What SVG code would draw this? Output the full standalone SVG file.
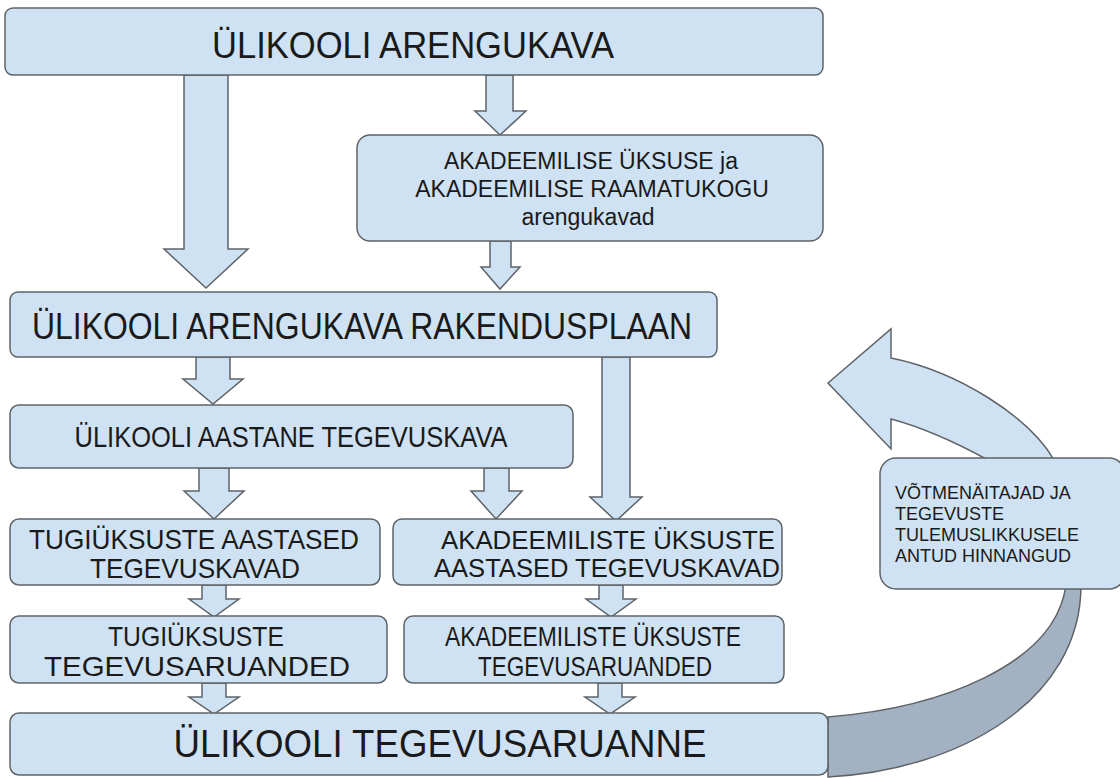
<svg xmlns="http://www.w3.org/2000/svg" width="1120" height="778" viewBox="0 0 1120 778">
<style>
.box{fill:#cfe2f3;stroke:#5f6368;stroke-width:1.5}
.arr{fill:#cfe2f3;stroke:#5f6368;stroke-width:1.5;stroke-linejoin:miter}
.dark{fill:#a3b2c2;stroke:#5f6368;stroke-width:1.5}
.n{font-family:"Liberation Sans Narrow","Liberation Sans",Arial,sans-serif;fill:#1a1a1a;text-anchor:middle}
.r{font-family:"Liberation Sans",Arial,sans-serif;fill:#1a1a1a;text-anchor:middle}
.s{font-family:"Liberation Sans",Arial,sans-serif;fill:#1a1a1a;font-size:18px}
</style>
<rect width="1120" height="778" fill="#ffffff"/>
<g id="connectors">
  <path class="dark" d="M828 717 C940 708 1055 665 1066 585 L1081 585 C1081 700 960 770 828 777 Z"/>
  <path class="arr" d="M828 383 L891 329 L891 358 C960 372 1030 418 1054 460 L988 460 C955 442 925 428 891 419 L891 449 Z"/>
  <path class="arr" d="M184 75 L228 75 L228 249 L248 249 L206 288 L164 249 L184 249 Z"/>
  <path class="arr" d="M486 75 L513 75 L513 111 L526 111 L500 135 L475 111 L486 111 Z"/>
  <path class="arr" d="M490 241 L511 241 L511 267 L520 267 L500 289 L481 267 L490 267 Z"/>
  <path class="arr" d="M196 357 L230 357 L230 379 L243 379 L213 404 L183 379 L196 379 Z"/>
  <path class="arr" d="M602 357 L630 357 L630 497 L642 497 L616 521 L590 497 L602 497 Z"/>
  <path class="arr" d="M199 468 L229 468 L229 491 L244 491 L214 519 L184 491 L199 491 Z"/>
  <path class="arr" d="M484 468 L509 468 L509 491 L522 491 L496 519 L471 491 L484 491 Z"/>
  <path class="arr" d="M202 585 L226 585 L226 599 L239 599 L214 617 L189 599 L202 599 Z"/>
  <path class="arr" d="M599 585 L623 585 L623 599 L636 599 L611 617 L586 599 L599 599 Z"/>
  <path class="arr" d="M202 683 L226 683 L226 697 L239 697 L214 714 L189 697 L202 697 Z"/>
  <path class="arr" d="M598 683 L622 683 L622 697 L635 697 L610 714 L585 697 L598 697 Z"/>
</g>
<g id="n-arengukava">
  <rect class="box" x="5" y="8" width="818" height="67" rx="8"/>
  <text class="n" x="413" y="58" font-size="36" textLength="402" lengthAdjust="spacingAndGlyphs">ÜLIKOOLI ARENGUKAVA</text>
</g>
<g id="n-akadeemilise">
  <rect class="box" x="357" y="135" width="466" height="106" rx="13"/>
  <text class="r" x="591" y="169" font-size="23">AKADEEMILISE ÜKSUSE ja</text>
  <text class="r" x="592" y="197" font-size="23">AKADEEMILISE RAAMATUKOGU</text>
  <text class="r" x="588" y="225" font-size="23">arengukavad</text>
</g>
<g id="n-rakendusplaan">
  <rect class="box" x="10" y="292" width="707" height="65" rx="8"/>
  <text class="n" x="362" y="339" font-size="37" textLength="660" lengthAdjust="spacingAndGlyphs">ÜLIKOOLI ARENGUKAVA RAKENDUSPLAAN</text>
</g>
<g id="n-aastane">
  <rect class="box" x="10" y="405" width="563" height="63" rx="9"/>
  <text class="n" x="291" y="447" font-size="29" textLength="433" lengthAdjust="spacingAndGlyphs">ÜLIKOOLI AASTANE TEGEVUSKAVA</text>
</g>
<g id="n-tugi-aastased">
  <rect class="box" x="10" y="519" width="370" height="66" rx="9"/>
  <text class="n" x="194" y="549" font-size="28" textLength="330" lengthAdjust="spacingAndGlyphs">TUGIÜKSUSTE AASTASED</text>
  <text class="n" x="195" y="578" font-size="28" textLength="210" lengthAdjust="spacingAndGlyphs">TEGEVUSKAVAD</text>
</g>
<g id="n-akad-aastased">
  <rect class="box" x="393" y="519" width="389" height="66" rx="9"/>
  <text class="r" x="608" y="549" font-size="25" textLength="334" lengthAdjust="spacingAndGlyphs">AKADEEMILISTE ÜKSUSTE</text>
  <text class="r" x="607" y="577" font-size="25" textLength="346" lengthAdjust="spacingAndGlyphs">AASTASED TEGEVUSKAVAD</text>
</g>
<g id="n-tugi-aruanded">
  <rect class="box" x="10" y="616" width="377" height="67" rx="9"/>
  <text class="n" x="196" y="646" font-size="28" textLength="176" lengthAdjust="spacingAndGlyphs">TUGIÜKSUSTE</text>
  <text class="n" x="197" y="676" font-size="28" textLength="306" lengthAdjust="spacingAndGlyphs">TEGEVUSARUANDED</text>
</g>
<g id="n-akad-aruanded">
  <rect class="box" x="404" y="616" width="380" height="67" rx="9"/>
  <text class="n" x="593" y="646" font-size="28" textLength="296" lengthAdjust="spacingAndGlyphs">AKADEEMILISTE ÜKSUSTE</text>
  <text class="n" x="595" y="676" font-size="28" textLength="234" lengthAdjust="spacingAndGlyphs">TEGEVUSARUANDED</text>
</g>
<g id="n-tegevusaruanne">
  <rect class="box" x="10" y="713" width="818" height="62" rx="9"/>
  <text class="n" x="440" y="757" font-size="38" textLength="533" lengthAdjust="spacingAndGlyphs">ÜLIKOOLI TEGEVUSARUANNE</text>
</g>
<g id="n-votmenaitajad">
  <rect class="box" x="880" y="458" width="245" height="131" rx="16"/>
  <text class="s" x="895" y="499">VÕTMENÄITAJAD JA</text>
  <text class="s" x="895" y="520">TEGEVUSTE</text>
  <text class="s" x="895" y="541">TULEMUSLIKKUSELE</text>
  <text class="s" x="895" y="562">ANTUD HINNANGUD</text>
</g>
</svg>
